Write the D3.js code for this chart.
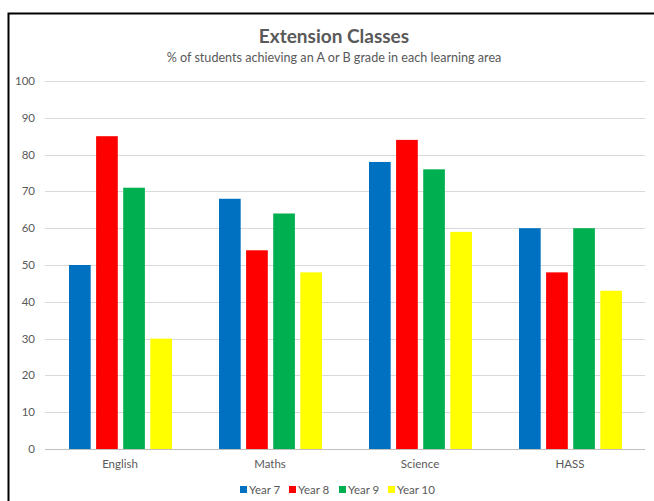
<!DOCTYPE html>
<html>
<head>
<meta charset="utf-8">
<script src="https://cdn.jsdelivr.net/npm/d3@7"></script>
<style>
  body { margin: 0; background: #fff; }
  svg { display: block; font-family: Lato, "Open Sans", sans-serif; }
</style>
</head>
<body>
<div id="chart-area"></div>
<script>
// data
const subjects = ["English", "Maths", "Science", "HASS"];
const years = ["Year 7", "Year 8", "Year 9", "Year 10"];
const year7 = [50, 68, 78, 60];
const year8 = [85, 54, 84, 48];
const year9 = [71, 64, 76, 60];
const year10 = [30, 48, 59, 43];
const yTicks = [0, 10, 20, 30, 40, 50, 60, 70, 80, 90, 100];
const colors = ["#0070C0", "#FF0000", "#00B050", "#FFFF00"];

const seriesValues = [year7, year8, year9, year10];

const W = 654, H = 501;
const margin = { top: 81, right: 9, bottom: 52, left: 45 };
const width = W - margin.left - margin.right,
  height = H - margin.top - margin.bottom;

let svg = d3.select("#chart-area").append("svg")
  .attr("width", W)
  .attr("height", H);

// outer frame (only top and left edges visible in the picture)
svg.append("path")
  .attr("d", `M8.5,${H} V13.5 H${W}`)
  .attr("fill", "none")
  .attr("stroke", "black")
  .attr("stroke-width", 2);

svg.append("text")
  .attr("x", 334).attr("y", 43)
  .attr("text-anchor", "middle")
  .attr("font-size", "19px")
  .attr("font-weight", "bold")
  .attr("fill", "#595959")
  .text("Extension Classes");

svg.append("text")
  .attr("x", 334).attr("y", 62)
  .attr("text-anchor", "middle")
  .attr("font-size", "12.6px")
  .attr("fill", "#595959")
  .text("% of students achieving an A or B grade in each learning area");

let g = svg.append("g")
  .attr("transform", `translate(${margin.left}, ${margin.top})`);

let x = d3.scaleBand().domain(subjects).range([0, width]).paddingInner(0).paddingOuter(0);
let x1 = d3.scaleBand().domain(years).range([24, x.bandwidth() - 23]).paddingInner(0.2);
let y = d3.scaleLinear().domain([0, 100]).range([height, 0]);

// gridlines
g.append("g")
  .selectAll("line")
  .data(yTicks.filter(d => d > 0))
  .enter()
  .append("line")
  .attr("x1", 0).attr("x2", width)
  .attr("y1", d => Math.round(y(d)) + 0.5)
  .attr("y2", d => Math.round(y(d)) + 0.5)
  .attr("stroke", "#D9D9D9");

// y labels
g.append("g")
  .selectAll("text")
  .data(yTicks)
  .enter()
  .append("text")
  .attr("x", -10)
  .attr("y", d => y(d) + 4)
  .attr("text-anchor", "end")
  .attr("font-size", "11.5px")
  .attr("fill", "#595959")
  .text(d => d);

// bars
let groups = g.selectAll(".subject")
  .data(subjects)
  .enter()
  .append("g")
  .attr("class", "subject")
  .attr("transform", d => `translate(${x(d)}, 0)`);

groups.selectAll("rect")
  .data((d, i) => years.map((yr, j) => ({ year: yr, value: seriesValues[j][i], idx: j })))
  .enter()
  .append("rect")
  .attr("x", d => x1(d.year))
  .attr("width", x1.bandwidth())
  .attr("y", d => y(d.value))
  .attr("height", d => height - y(d.value))
  .attr("fill", d => colors[d.idx]);

// x axis line
g.append("line")
  .attr("x1", 0).attr("x2", width)
  .attr("y1", height + 0.5).attr("y2", height + 0.5)
  .attr("stroke", "#BFBFBF");

g.append("g")
  .selectAll("text")
  .data(subjects)
  .enter()
  .append("text")
  .attr("x", d => x(d) + x.bandwidth() / 2)
  .attr("y", height + 19)
  .attr("text-anchor", "middle")
  .attr("font-size", "11.5px")
  .attr("fill", "#595959")
  .text(d => d);

// legend
const legendX = [240, 289, 339, 388];
let legend = svg.append("g")
  .selectAll("g")
  .data(years)
  .enter()
  .append("g")
  .attr("transform", (d, i) => `translate(${legendX[i]}, 490)`);
legend.append("rect")
  .attr("x", 0).attr("y", -4)
  .attr("width", 7).attr("height", 7)
  .attr("fill", (d, i) => colors[i]);
legend.append("text")
  .attr("x", 9).attr("y", 4)
  .attr("font-size", "11.5px")
  .attr("fill", "#595959")
  .text(d => d);
</script>
</body>
</html>
